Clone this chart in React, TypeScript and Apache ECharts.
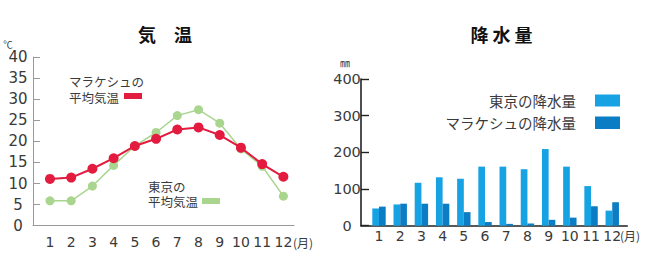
import React, { useEffect, useRef } from "react";
import * as echarts from "echarts";

const months = ["1", "2", "3", "4", "5", "6", "7", "8", "9", "10", "11", "12"];
const marrakechTemp = [11.1, 11.4, 13.5, 16.0, 18.9, 20.6, 22.8, 23.3, 21.5, 18.5, 14.6, 11.6];
const tokyoTemp = [5.9, 5.9, 9.4, 14.3, 18.9, 22.1, 26.1, 27.5, 24.3, 18.2, 14.1, 7.0];
const tokyoRain = [47, 58, 117, 132, 128, 161, 161, 154, 209, 161, 108, 41];
const marrakechRain = [52, 60, 60, 60, 37, 10, 5, 6, 16, 22, 53, 64];

const tempTitle = "気　温";
const rainTitle = "降 水 量";
const tempUnit = "℃";
const rainUnit = "㎜";
const monthUnit = "(月)";
const marrakechTempLegend = "マラケシュの\n平均気温";
const tokyoTempLegend = "東京の\n平均気温";
const tokyoRainLegend = "東京の降水量";
const marrakechRainLegend = "マラケシュの降水量";

const RED = "#e31b3e";
const GREEN = "#a9d58f";
const LBLUE = "#17a2e3";
const DBLUE = "#0b7dc4";
const JP = "'Noto Sans CJK JP', sans-serif";
const NUM = "'DejaVu Sans', sans-serif";
const TXT = "#3a3a3a";

export default function App() {
  const ref = useRef<HTMLDivElement>(null);
  useEffect(() => {
    if (!ref.current) return;
    const chart = echarts.init(ref.current, null, { renderer: "svg" });
    const monthValues = months.map((_, i) => i + 1);
    const txt = (text: string, x: number, y: number, size: number, align: string, extra: any = {}) => ({
      type: "text",
      x,
      y,
      style: {
        text,
        fill: TXT,
        fontSize: size,
        fontFamily: JP,
        align,
        verticalAlign: "middle",
        ...extra,
      },
    });
    chart.setOption({
      animation: false,
      backgroundColor: "#ffffff",
      grid: [
        { left: 33, right: 362, top: 57, bottom: 40.3 },
        { left: 361, right: 28.7, top: 79, bottom: 40.3 },
      ],
      xAxis: [
        {
          type: "value",
          gridIndex: 0,
          min: 0.2,
          max: 12.5,
          axisLine: { show: true, lineStyle: { color: "#9a9a9a", width: 1 } },
          axisTick: { show: false },
          splitLine: { show: false },
          axisLabel: {
            customValues: monthValues,
            formatter: (v: number) => months[Math.round(v) - 1] ?? "",
            margin: 9,
            fontSize: 14,
            fontFamily: NUM,
            color: TXT,
          },
        },
        {
          type: "value",
          gridIndex: 1,
          min: 0.151,
          max: 12.71,
          axisLine: { show: true, lineStyle: { color: "#222", width: 1.6 } },
          axisTick: { show: false },
          splitLine: { show: false },
          axisLabel: {
            customValues: monthValues,
            formatter: (v: number) => months[Math.round(v) - 1] ?? "",
            margin: 3,
            fontSize: 14,
            fontFamily: NUM,
            color: TXT,
          },
        },
      ],
      yAxis: [
        {
          type: "value",
          gridIndex: 0,
          min: 0,
          max: 40,
          interval: 5,
          axisLine: { show: true, lineStyle: { color: "#9a9a9a", width: 1 } },
          axisTick: { show: true, inside: true, length: 7, lineStyle: { color: "#9a9a9a" } },
          splitLine: { show: false },
          axisLabel: { margin: 15, align: "center", fontSize: 15, fontFamily: NUM, color: TXT },
        },
        {
          type: "value",
          gridIndex: 1,
          min: 0,
          max: 400,
          interval: 100,
          axisLine: { show: true, lineStyle: { color: "#222", width: 1.6 } },
          axisTick: { show: true, inside: true, length: 8, lineStyle: { color: "#222", width: 1.4 } },
          splitLine: { show: false },
          axisLabel: { margin: 14, align: "center", fontSize: 14.5, fontFamily: NUM, color: TXT },
        },
      ],
      series: [
        {
          type: "line",
          name: "東京の平均気温",
          xAxisIndex: 0,
          yAxisIndex: 0,
          data: tokyoTemp.map((v, i) => [i + 1, v]),
          symbol: "circle",
          symbolSize: 9,
          lineStyle: { color: GREEN, width: 1.5 },
          itemStyle: { color: GREEN },
          z: 2,
        },
        {
          type: "line",
          name: "マラケシュの平均気温",
          xAxisIndex: 0,
          yAxisIndex: 0,
          data: marrakechTemp.map((v, i) => [i + 1, v]),
          symbol: "circle",
          symbolSize: 10,
          lineStyle: { color: RED, width: 2 },
          itemStyle: { color: RED },
          z: 3,
        },
        {
          type: "bar",
          name: tokyoRainLegend,
          xAxisIndex: 1,
          yAxisIndex: 1,
          data: tokyoRain.map((v, i) => [i + 1, v]),
          barWidth: 6.7,
          barGap: "0%",
          itemStyle: { color: LBLUE },
        },
        {
          type: "bar",
          name: marrakechRainLegend,
          xAxisIndex: 1,
          yAxisIndex: 1,
          data: marrakechRain.map((v, i) => [i + 1, v]),
          barWidth: 6.7,
          barGap: "0%",
          itemStyle: { color: DBLUE },
        },
      ],
      graphic: [
        txt(tempTitle, 165, 34, 18, "center", { fontWeight: "bold", fill: "#111" }),
        txt(rainTitle, 501.5, 34, 18, "center", { fontWeight: "bold", fill: "#111" }),
        txt(tempUnit, 8, 44, 9.5, "center"),
        txt(rainUnit, 345, 62, 10, "center"),
        txt(monthUnit, 293, 242, 12, "left"),
        txt(monthUnit, 620, 235, 12, "left"),
        txt(marrakechTempLegend, 69, 89, 12.5, "left", { lineHeight: 16 }),
        { type: "rect", shape: { x: 124, y: 93, width: 18, height: 6 }, style: { fill: RED } },
        txt(tokyoTempLegend, 148, 193.5, 12.5, "left", { lineHeight: 15 }),
        { type: "rect", shape: { x: 202, y: 198, width: 18, height: 6 }, style: { fill: GREEN } },
        txt(tokyoRainLegend, 576, 100.5, 14.5, "right"),
        txt(marrakechRainLegend, 576, 122.5, 14.5, "right"),
        { type: "rect", shape: { x: 595, y: 94.5, width: 25, height: 12 }, style: { fill: LBLUE } },
        { type: "rect", shape: { x: 595, y: 116.5, width: 25, height: 12.5 }, style: { fill: DBLUE } },
      ],
    });
    return () => chart.dispose();
  }, []);
  return (
    <div
      ref={ref}
      style={{ position: "absolute", left: 0, top: 0, width: 656, height: 266, background: "#fff" }}
    />
  );
}
